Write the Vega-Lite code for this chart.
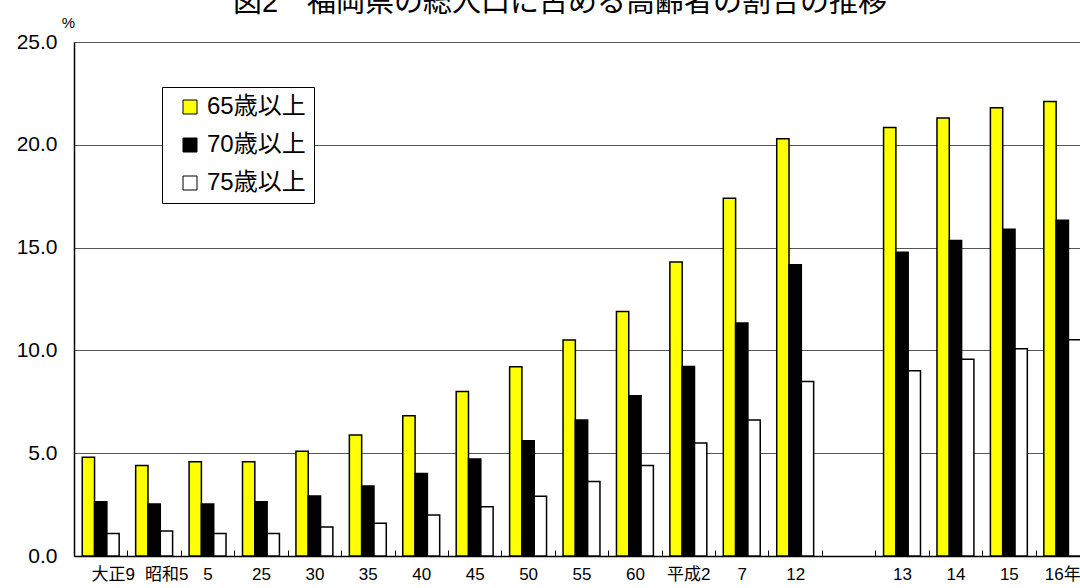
{
  "$schema": "https://vega.github.io/schema/vega-lite/v6.json",
  "width": 1006,
  "height": 514,
  "autosize": {"type": "none"},
  "padding": {"left": 74, "top": 42, "right": 0, "bottom": 32},
  "title": {
    "text": "図2　福岡県の総人口に占める高齢者の割合の推移",
    "fontSize": 29,
    "font": "Liberation Sans, Noto Sans CJK JP",
    "fontWeight": "normal",
    "color": "#000000",
    "anchor": "middle",
    "dx": -17,
    "dy": 7
  },
  "data": {
    "values": [
      {"year": "大正9", "age": "65歳以上", "pct": 4.8},
      {"year": "大正9", "age": "70歳以上", "pct": 2.64},
      {"year": "大正9", "age": "75歳以上", "pct": 1.1},
      {"year": "昭和5", "age": "65歳以上", "pct": 4.4},
      {"year": "昭和5", "age": "70歳以上", "pct": 2.53},
      {"year": "昭和5", "age": "75歳以上", "pct": 1.22},
      {"year": "5", "age": "65歳以上", "pct": 4.59},
      {"year": "5", "age": "70歳以上", "pct": 2.53},
      {"year": "5", "age": "75歳以上", "pct": 1.1},
      {"year": "25", "age": "65歳以上", "pct": 4.59},
      {"year": "25", "age": "70歳以上", "pct": 2.64},
      {"year": "25", "age": "75歳以上", "pct": 1.1},
      {"year": "30", "age": "65歳以上", "pct": 5.1},
      {"year": "30", "age": "70歳以上", "pct": 2.92},
      {"year": "30", "age": "75歳以上", "pct": 1.41},
      {"year": "35", "age": "65歳以上", "pct": 5.89},
      {"year": "35", "age": "70歳以上", "pct": 3.41},
      {"year": "35", "age": "75歳以上", "pct": 1.59},
      {"year": "40", "age": "65歳以上", "pct": 6.82},
      {"year": "40", "age": "70歳以上", "pct": 4.01},
      {"year": "40", "age": "75歳以上", "pct": 2.0},
      {"year": "45", "age": "65歳以上", "pct": 8.0},
      {"year": "45", "age": "70歳以上", "pct": 4.72},
      {"year": "45", "age": "75歳以上", "pct": 2.4},
      {"year": "50", "age": "65歳以上", "pct": 9.2},
      {"year": "50", "age": "70歳以上", "pct": 5.61},
      {"year": "50", "age": "75歳以上", "pct": 2.91},
      {"year": "55", "age": "65歳以上", "pct": 10.5},
      {"year": "55", "age": "70歳以上", "pct": 6.62},
      {"year": "55", "age": "75歳以上", "pct": 3.62},
      {"year": "60", "age": "65歳以上", "pct": 11.89},
      {"year": "60", "age": "70歳以上", "pct": 7.8},
      {"year": "60", "age": "75歳以上", "pct": 4.4},
      {"year": "平成2", "age": "65歳以上", "pct": 14.3},
      {"year": "平成2", "age": "70歳以上", "pct": 9.22},
      {"year": "平成2", "age": "75歳以上", "pct": 5.5},
      {"year": "7", "age": "65歳以上", "pct": 17.4},
      {"year": "7", "age": "70歳以上", "pct": 11.33},
      {"year": "7", "age": "75歳以上", "pct": 6.62},
      {"year": "12", "age": "65歳以上", "pct": 20.3},
      {"year": "12", "age": "70歳以上", "pct": 14.17},
      {"year": "12", "age": "75歳以上", "pct": 8.49},
      {"year": "13", "age": "65歳以上", "pct": 20.84},
      {"year": "13", "age": "70歳以上", "pct": 14.77},
      {"year": "13", "age": "75歳以上", "pct": 9.01},
      {"year": "14", "age": "65歳以上", "pct": 21.3},
      {"year": "14", "age": "70歳以上", "pct": 15.35},
      {"year": "14", "age": "75歳以上", "pct": 9.57},
      {"year": "15", "age": "65歳以上", "pct": 21.8},
      {"year": "15", "age": "70歳以上", "pct": 15.89},
      {"year": "15", "age": "75歳以上", "pct": 10.08},
      {"year": "16年", "age": "65歳以上", "pct": 22.1},
      {"year": "16年", "age": "70歳以上", "pct": 16.33},
      {"year": "16年", "age": "75歳以上", "pct": 10.52}
    ]
  },
  "mark": {"type": "bar", "stroke": "#000000", "strokeWidth": 1.5},
  "encoding": {
    "x": {
      "field": "year",
      "type": "nominal",
      "sort": null,
      "scale": {
        "domain": ["大正9", "昭和5", "5", "25", "30", "35", "40", "45", "50", "55", "60", "平成2", "7", "12", "gap", "13", "14", "15", "16年"],
        "range": [0, 1015],
        "paddingInner": 0,
        "paddingOuter": 0
      },
      "axis": {
        "title": null,
        "labelAngle": 0,
        "labelExpr": "datum.value === 'gap' ? '' : datum.label",
        "labelFont": "Liberation Sans, Noto Sans CJK JP",
        "labelFontSize": 17,
        "labelColor": "#000000",
        "labelPadding": 16,
        "labelOffset": {"condition": {"test": "indexof(['大正9','昭和5'], datum.value) >= 0", "value": 12}, "value": 0},
        "ticks": true,
        "tickBand": "extent",
        "tickSize": -6,
        "tickColor": "#000000",
        "tickWidth": 1,
        "domainColor": "#000000",
        "domainWidth": 1.5,
        "grid": false
      }
    },
    "xOffset": {
      "field": "age",
      "type": "nominal",
      "scale": {"domain": ["65歳以上", "70歳以上", "75歳以上"], "paddingInner": 0, "paddingOuter": 0.67}
    },
    "y": {
      "field": "pct",
      "type": "quantitative",
      "scale": {"domain": [0, 25], "nice": false},
      "axis": {
        "values": [0, 5, 10, 15, 20, 25],
        "format": ".1f",
        "labelFont": "Liberation Sans",
        "labelFontSize": 21,
        "labelColor": "#000000",
        "labelPadding": 17,
        "ticks": false,
        "domainColor": "#000000",
        "domainWidth": 1.5,
        "grid": true,
        "gridColor": "#555555",
        "gridWidth": 1,
        "title": "%",
        "titleFont": "Liberation Sans",
        "titleFontSize": 15,
        "titleFontWeight": "normal",
        "titleColor": "#000000",
        "titleAngle": 0,
        "titleAlign": "center",
        "titleBaseline": "bottom",
        "titleX": -6,
        "titleY": -12
      }
    },
    "color": {
      "field": "age",
      "type": "nominal",
      "scale": {"domain": ["65歳以上", "70歳以上", "75歳以上"], "range": ["#ffff00", "#000000", "#ffffff"]},
      "legend": {
        "title": null,
        "orient": "none",
        "legendX": 88,
        "legendY": 45,
        "direction": "vertical",
        "padding": 8,
        "fillColor": "#ffffff",
        "strokeColor": "#000000",
        "symbolType": "square",
        "symbolSize": 196,
        "symbolStrokeColor": "#000000",
        "symbolStrokeWidth": 1,
        "symbolOffset": 8,
        "labelFont": "Liberation Sans, Noto Sans CJK JP",
        "labelFontSize": 24,
        "labelColor": "#000000",
        "labelOffset": 5,
        "rowPadding": 14
      }
    }
  },
  "config": {"view": {"stroke": null}}
}
